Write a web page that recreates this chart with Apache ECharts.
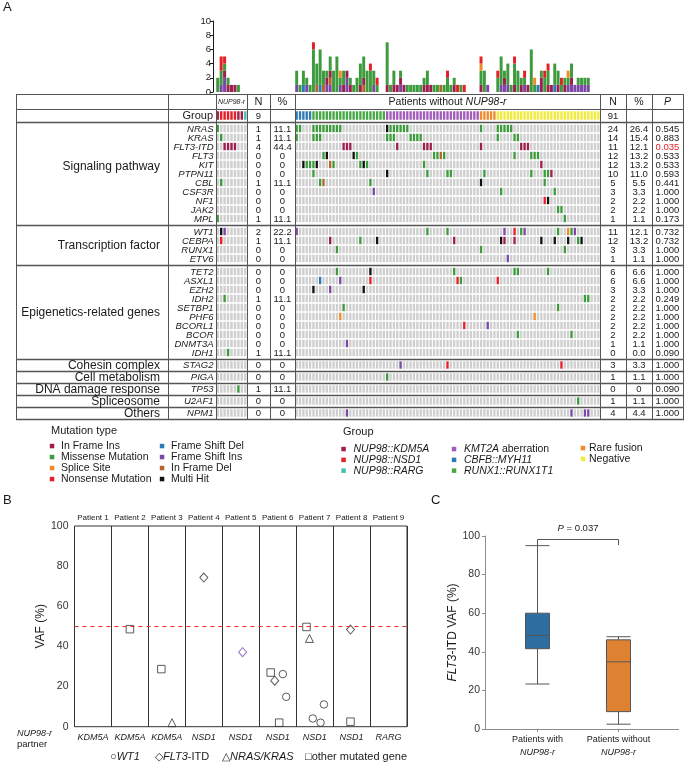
<!DOCTYPE html>
<html>
<head>
<meta charset="utf-8">
<title>NUP98-r mutation landscape</title>
<script src="https://cdn.jsdelivr.net/npm/echarts@6.0.0/dist/echarts.min.js"></script>
<style>
  html, body { margin: 0; padding: 0; background: #fff; }
  #main { width: 685px; height: 764px; }
</style>
</head>
<body>
<div id="main"></div>
<script>
var FONT = '"Liberation Sans", Arial, sans-serif';
var NARROW = '"Liberation Sans Narrow", "Liberation Sans", Arial, sans-serif';
var INK = '#1a1a1a';
var CELL_GRAY = '#cfcfcf';

/* mutation types, stacked bottom -> top */
var mutCodes = ['F', 'D', 'E', 'I', 'M', 'S', 'N', 'X'];
var mutNames = ['Frame Shift Ins', 'Frame Shift Del', 'In Frame Del', 'In Frame Ins', 'Missense Mutation', 'Splice Site', 'Nonsense Mutation', 'Multi Hit'];
var mutColors = ['#7b48a6', '#2c79b8', '#b5652b', '#9c1f4d', '#3d9b3d', '#f08a24', '#e41f26', '#111111'];

/* fusion groups */
var groupNames = ['NUP98::KDM5A', 'NUP98::NSD1', 'NUP98::RARG', 'KMT2A aberration', 'CBFB::MYH11', 'RUNX1::RUNX1T1', 'Rare fusion', 'Negative'];
var groupLabels = ['{i|NUP98::KDM5A}', '{i|NUP98::NSD1}', '{i|NUP98::RARG}', '{i|KMT2A} aberration', '{i|CBFB::MYH11}', '{i|RUNX1::RUNX1T1}', 'Rare fusion', 'Negative'];
var groupColors = ['#9c1f4d', '#e41f26', '#45c0b0', '#a25bb8', '#2f79b5', '#46a845', '#f08a2a', '#f1eb3c'];
var groupNup = [0, 1, 1, 1, 1, 1, 0, 0, 2];
var groupOthCounts = [[4, 5], [5, 22], [3, 28], [6, 5], [7, 31]];

/* genes, sections and table values */
var sections = ['Signaling pathway', 'Transcription factor', 'Epigenetics-related genes', 'Cohesin complex', 'Cell metabolism', 'DNA damage response', 'Spliceosome', 'Others'];
var sectionSize = [11, 4, 10, 1, 1, 1, 1, 1];
var genes = ['NRAS', 'KRAS', 'FLT3-ITD', 'FLT3', 'KIT', 'PTPN11', 'CBL', 'CSF3R', 'NF1', 'JAK2', 'MPL',
  'WT1', 'CEBPA', 'RUNX1', 'ETV6',
  'TET2', 'ASXL1', 'EZH2', 'IDH2', 'SETBP1', 'PHF6', 'BCORL1', 'BCOR', 'DNMT3A', 'IDH1',
  'STAG2', 'PIGA', 'TP53', 'U2AF1', 'NPM1'];
var nupN = ['1', '1', '4', '0', '0', '0', '1', '0', '0', '0', '1', '2', '1', '0', '0',
  '0', '0', '0', '1', '0', '0', '0', '0', '0', '1', '0', '0', '1', '0', '0'];
var nupPct = ['11.1', '11.1', '44.4', '0', '0', '0', '11.1', '0', '0', '0', '11.1', '22.2', '11.1', '0', '0',
  '0', '0', '0', '11.1', '0', '0', '0', '0', '0', '11.1', '0', '0', '11.1', '0', '0'];
var othN = ['24', '14', '11', '12', '12', '10', '5', '3', '2', '2', '1', '11', '12', '3', '1',
  '6', '6', '3', '2', '2', '2', '2', '2', '1', '0', '3', '1', '0', '1', '4'];
var othPct = ['26.4', '15.4', '12.1', '13.2', '13.2', '11.0', '5.5', '3.3', '2.2', '2.2', '1.1', '12.1', '13.2', '3.3', '1.1',
  '6.6', '6.6', '3.3', '2.2', '2.2', '2.2', '2.2', '2.2', '1.1', '0.0', '3.3', '1.1', '0', '1.1', '4.4'];
var pVals = ['0.545', '0.883', '0.035', '0.533', '0.533', '0.593', '0.441', '1.000', '1.000', '1.000', '0.173', '0.732', '0.732', '1.000', '1.000',
  '1.000', '1.000', '1.000', '0.249', '1.000', '1.000', '1.000', '1.000', '1.000', '0.090', '1.000', '1.000', '0.090', '1.000', '1.000'];

/* oncoprint hits per gene: <type code><patient column or range> */
var nupMut = ['M0', 'M1', 'I2-5', '', '', '', 'M1', '', '', '', 'M0',
  'X1 F2', 'N1', '', '',
  '', '', '', 'M2', '', '', '', '', '', 'M3',
  '', '', 'M6', '', ''];
var othMut = [
  'M0-1 M5-13 X27 M28-33 M55 M60-64',
  'M0 M5-7 M27-29 M34-37 M60 M65-66',
  'I14-16 I30 I38-40 I55 I67-69',
  'M8 X9 X17 M18 M41-42 E43 M44 M65 M70-72',
  'X2 M3-5 X6 E10 M11 M19 X20 M21 M38 I73',
  'M5 X27 M39 M45-46 M56 M70 M74-75 I76',
  'M7 E8 M22 X55 M74',
  'F23 M61 M77',
  'N74 X75',
  'M78-79',
  'M80',
  'F0 M39 M45 F62 N65 M67 F68 M78 S81 M82 F83',
  'I10 M19 X24 I47 X61 I62 I65 X73 X77 X81 M84 X85',
  'M12 M55 M80',
  'F63',
  'M12 X22 M47 M65-66 M75',
  'D7 F13 N22 N48 M49 N60',
  'X5 F10 X20',
  'M86-87',
  'M14 M78',
  'S13 S71',
  'N50 F57',
  'M66 M82',
  'F15',
  '',
  'F31 N45 N79',
  'M27',
  '',
  'M84',
  'F15 F82 F86-87'
];

/* mutation burden per patient (top bars), one letter per mutation */
var barsNup = ['MM', 'FMMNN', 'FFIMN', 'IM', 'I', 'I', 'M', '', ''];
var barsOth = [
  'FMM', 'M', 'DMM', 'FM', 'M', 'MMMMMMN', 'EMMM', 'DMMMMM', 'EMM', 'FIM',
  'FEIMM', 'MMM', 'MMMMM', 'FMS', 'IMM', 'FFI', 'IM', 'M', 'MM', 'IMMM',
  'EIMMM', 'MMM', 'MMMN', 'FMM', 'MN', '', '', 'IMMMMMM', 'M', 'IMM',
  'I', 'FIM', 'I', 'M', 'M', 'M', 'M', 'M', 'IM', 'IMM',
  'I', 'M', 'M', 'E', 'M', 'MMN', 'M', 'IM', 'N', 'M',
  'N', '', '', '', '', 'IMMNS', 'MMM', 'F', '', '',
  'MMN', 'FMMMM', 'FIM', 'FMMM', 'M', 'IMMMN', 'MMM', 'IM', 'FMN', 'I',
  'MMMMMM', 'MS', 'D', 'IIM', 'MMN', 'IMMN', 'I', 'DMMM', 'IMM', 'MN',
  'IM', 'FMS', 'FIMM', 'F', 'FM', 'FM', 'FM', 'FM', '', '',
  ''
];

/* panel B: [patient, VAF %, horizontal jitter within column] */
var patients = ['Patient 1', 'Patient 2', 'Patient 3', 'Patient 4', 'Patient 5', 'Patient 6', 'Patient 7', 'Patient 8', 'Patient 9'];
var partners = ['KDM5A', 'KDM5A', 'KDM5A', 'NSD1', 'NSD1', 'NSD1', 'NSD1', 'NSD1', 'RARG'];
var vafWT1 = [[6, 26.2, 0.14], [6, 14.9, 0.23], [7, 4.1, -0.05], [7, 2.0, 0.16], [7, 11.1, 0.25]];
var vafFLT3 = [[4, 74.3, 0], [5, 37.1, 0.05], [6, 22.9, -0.08], [8, 48.4, -0.03]];
var vafRAS = [[3, 2.0, 0.14], [7, 44.0, -0.14]];
var vafOther = [[2, 48.6, 0], [3, 28.7, -0.15], [6, 27.0, -0.19], [6, 2.0, 0.04], [7, 49.7, -0.22], [8, 2.5, -0.03]];

/* panel C: [min, Q1, median, Q3, max] */
var boxCats = ['with', 'without'];
var boxWith = [23.3, 41.6, 48.5, 60.0, 95.0];
var boxWithout = [2.5, 9.0, 34.8, 46.2, 47.8];

/* ---------- layout helpers ---------- */
var ROW = 9;
var rowY = [], secTop = [], secBot = [];
(function () {
  var y = 13;
  sectionSize.forEach(function (n) {
    var pad = n > 1 ? 4 : 3;
    secTop.push(y);
    for (var i = 0; i < n; i++) rowY.push(y + pad / 2 + ROW * (i + 0.5));
    y += n * ROW + pad;
    secBot.push(y);
  });
})();
var GROUP_Y = 6.5;
var ONCO_TOP = 109, ONCO_H = 310;
var palette = [CELL_GRAY].concat(mutColors, groupColors);

function parseMut(s) {
  var out = [];
  s.split(' ').forEach(function (tok) {
    if (!tok) return;
    var r = tok.slice(1).split('-');
    var a = +r[0], b = r.length > 1 ? +r[1] : a;
    for (var k = a; k <= b; k++) out.push([k, tok[0]]);
  });
  return out;
}

function oncoData(groupOf, mutList) {
  var n = groupOf.length, data = [];
  for (var c = 0; c < n; c++) data.push([c, GROUP_Y, 1, 9 + groupOf[c]]);
  genes.forEach(function (g, gi) {
    var hit = {};
    parseMut(mutList[gi]).forEach(function (m) { hit[m[0]] = m[1]; });
    for (var c = 0; c < n; c++) {
      var col = hit[c] ? 1 + mutCodes.indexOf(hit[c]) : 0;
      data.push([c, rowY[gi], 0, col]);
    }
  });
  return data;
}

function renderCell(params, api) {
  var p = api.coord([api.value(0), api.value(1)]);
  var w = api.size([1, 0])[0];
  var h = api.value(2) ? 8.5 : 7.4;
  return {
    type: 'rect',
    shape: { x: p[0] - w / 2 + 0.5, y: p[1] - h / 2, width: Math.max(w - 1, 1), height: h },
    style: { fill: palette[api.value(3)] }
  };
}

function stackCounts(bars, code) {
  return bars.map(function (s) { return s.split(code).length - 1; });
}

var groupOth = [];
groupOthCounts.forEach(function (g) { for (var i = 0; i < g[1]; i++) groupOth.push(g[0]); });
var nupIdx = barsNup.map(function (s, i) { return String(i); });
var othIdx = barsOth.map(function (s, i) { return String(i); });

/* ---------- graphic (table, legends, labels) ---------- */
function T(x, y, s, size, o) {
  o = o || {};
  var fam = o.family || FONT;
  return {
    type: 'text', x: x, y: y, silent: true, z: 10,
    style: {
      text: s, fontSize: size, fontFamily: fam, fontStyle: o.italic ? 'italic' : 'normal',
      fill: o.color || INK, align: o.align || 'center', verticalAlign: 'middle',
      rich: {
        i: { fontStyle: 'italic', fontSize: size, fontFamily: fam, fill: o.color || INK },
        n: { fontStyle: 'normal', fontSize: size, fontFamily: fam, fill: o.color || INK }
      }
    }
  };
}
function L(x1, y1, x2, y2, w, c) {
  return { type: 'line', silent: true, z: 9, shape: { x1: x1, y1: y1, x2: x2, y2: y2 }, style: { stroke: c || '#555', lineWidth: w || 1 } };
}
function SQ(cx, cy, color) {
  return { type: 'rect', silent: true, z: 10, shape: { x: cx - 2.2, y: cy - 2.2, width: 4.5, height: 4.5 }, style: { fill: color } };
}

var gfx = [];
var TBL_X = [16, 168, 216, 247, 270, 295, 600, 626, 652, 683];
var TBL_TOP = 94;
var tblBottom = ONCO_TOP + secBot[secBot.length - 1];
function colMid(i) { return (TBL_X[i] + TBL_X[i + 1]) / 2; }

TBL_X.forEach(function (x) { gfx.push(L(x + 0.5, TBL_TOP, x + 0.5, tblBottom + 0.5)); });
[TBL_TOP, ONCO_TOP].forEach(function (y) { gfx.push(L(16, y + 0.5, 684, y + 0.5)); });
gfx.push(L(16, ONCO_TOP + secTop[0] + 0.5, 684, ONCO_TOP + secTop[0] + 0.5, 1.6));
secBot.forEach(function (b) { gfx.push(L(16, ONCO_TOP + b + 0.5, 684, ONCO_TOP + b + 0.5, 1.3)); });

var headY = (TBL_TOP + ONCO_TOP) / 2 + 0.5;
gfx.push(T(colMid(2), headY, 'NUP98-r', 7, { italic: true }));
gfx.push(T(colMid(3), headY, 'N', 11));
gfx.push(T(colMid(4), headY, '%', 11));
gfx.push(T(colMid(5), headY, 'Patients without {i|NUP98-r}', 10.5));
gfx.push(T(colMid(6), headY, 'N', 10.5));
gfx.push(T(colMid(7), headY, '%', 10.5));
gfx.push(T(colMid(8), headY, 'P', 10.5, { italic: true }));

var grpY = ONCO_TOP + GROUP_Y + 0.5;
gfx.push(T(213, grpY, 'Group', 11, { align: 'right' }));
gfx.push(T(colMid(3), grpY, String(groupNup.length), 9.5, { family: NARROW }));
gfx.push(T(colMid(6), grpY, String(groupOth.length), 9.5, { family: NARROW }));

genes.forEach(function (g, i) {
  var y = ONCO_TOP + rowY[i] + 0.5;
  gfx.push(T(213.5, y, g, 9.5, { italic: true, align: 'right', family: NARROW }));
  gfx.push(T(colMid(3), y, nupN[i], 9.5, { family: NARROW }));
  gfx.push(T(colMid(4), y, nupPct[i], 9.5, { family: NARROW }));
  gfx.push(T(colMid(6), y, othN[i], 9.5, { family: NARROW }));
  gfx.push(T(colMid(7), y, othPct[i], 9.5, { family: NARROW }));
  gfx.push(T(colMid(8), y, pVals[i], 9.5, { family: NARROW, color: +pVals[i] < 0.05 ? '#e41f26' : INK }));
});
sections.forEach(function (s, i) {
  var mid = ONCO_TOP + (secTop[i] + secBot[i]) / 2 + 0.5;
  gfx.push(T(160, i === 0 ? mid - 7 : mid, s, 12, { align: 'right' }));
});

/* mutation type legend */
gfx.push(T(51, 431, 'Mutation type', 11, { align: 'left' }));
var mutLegendCols = [[3, 4, 5, 6], [1, 0, 2, 7]];
var mutLegendX = [52, 162];
mutLegendCols.forEach(function (col, ci) {
  col.forEach(function (t, r) {
    var y = 446 + 11 * r;
    gfx.push(SQ(mutLegendX[ci], y, mutColors[t]));
    gfx.push(T(mutLegendX[ci] + 9, y, mutNames[t], 10.5, { align: 'left' }));
  });
});

/* group legend */
gfx.push(T(343, 432, 'Group', 11, { align: 'left' }));
var grpLegendCols = [[0, 1, 2], [3, 4, 5], [6, 7]];
var grpLegendX = [343.5, 454, 583];
grpLegendCols.forEach(function (col, ci) {
  col.forEach(function (g, r) {
    var y = (ci === 2 ? 448 : 449) + 10.8 * r;
    gfx.push(SQ(grpLegendX[ci], y, groupColors[g]));
    gfx.push(T(grpLegendX[ci] + (ci === 2 ? 6 : 10), y, groupLabels[g], 10.5, { align: 'left' }));
  });
});

/* panel letters */
gfx.push(T(3, 7, 'A', 13, { align: 'left' }));
gfx.push(T(3, 500, 'B', 13, { align: 'left' }));
gfx.push(T(431, 500, 'C', 13, { align: 'left' }));

/* panel B extras */
gfx.push(T(17, 733, '{i|NUP98-r}', 9, { align: 'left' }));
gfx.push(T(17, 744.5, 'partner', 9.5, { align: 'left' }));
gfx.push(T(110, 757, '\u25CB{i|WT1}', 11, { align: 'left' }));
gfx.push(T(155, 757, '\u25C7{i|FLT3}-ITD', 11, { align: 'left' }));
gfx.push(T(222, 757, '\u25B3{i|NRAS/KRAS}', 11, { align: 'left' }));
gfx.push(T(305, 757, '\u25A1other mutated gene', 11, { align: 'left' }));

/* panel C extras */
var C_LEFT = 497, C_W = 162, C_TOP = 536, C_H = 193;
var bx1 = C_LEFT + C_W / 4, bx2 = C_LEFT + C_W * 3 / 4;
gfx.push(L(485, C_TOP + C_H + 0.5, 679, C_TOP + C_H + 0.5, 1, '#8c8c8c'));
gfx.push({
  type: 'polyline', silent: true, z: 9,
  shape: { points: [[bx1, 545], [bx1, 539.5], [bx2, 539.5], [bx2, 545]] },
  style: { stroke: '#555', fill: 'none', lineWidth: 1 }
});
gfx.push(T((bx1 + bx2) / 2, 528, '{i|P} = 0.037', 9.5));

/* ---------- series ---------- */
var series = [];
mutCodes.forEach(function (code, t) {
  series.push({
    type: 'bar', name: mutNames[t], xAxisIndex: 0, yAxisIndex: 0, stack: 'nup',
    barCategoryGap: '12%', data: stackCounts(barsNup, code), itemStyle: { color: mutColors[t] }
  });
  series.push({
    type: 'bar', name: mutNames[t], xAxisIndex: 1, yAxisIndex: 1, stack: 'oth',
    barCategoryGap: '12%', data: stackCounts(barsOth, code), itemStyle: { color: mutColors[t] }
  });
});
series.push({ type: 'custom', xAxisIndex: 2, yAxisIndex: 2, renderItem: renderCell, data: oncoData(groupNup, nupMut), silent: true });
series.push({ type: 'custom', xAxisIndex: 3, yAxisIndex: 3, renderItem: renderCell, data: oncoData(groupOth, othMut), silent: true });

function jit(list, purplePatient) {
  return list.map(function (p) {
    var item = { value: [p[0] - 0.5 + p[2], p[1]] };
    if (p[0] === purplePatient) item.itemStyle = { borderColor: '#7e4fb0' };
    return item;
  });
}
var hollow = { color: 'rgba(0,0,0,0)', borderColor: '#333', borderWidth: 1 };
series.push({
  type: 'scatter', name: 'WT1', xAxisIndex: 6, yAxisIndex: 4, symbol: 'circle', symbolSize: 7.5,
  itemStyle: hollow, data: jit(vafWT1),
  markLine: {
    silent: true, symbol: 'none', label: { show: false },
    lineStyle: { color: '#e5322d', type: [4, 4], width: 1 },
    data: [{ yAxis: 50 }]
  }
});
series.push({ type: 'scatter', name: 'FLT3-ITD', xAxisIndex: 6, yAxisIndex: 4, symbol: 'diamond', symbolSize: [8, 9], itemStyle: hollow, data: jit(vafFLT3, 5) });
series.push({ type: 'scatter', name: 'NRAS/KRAS', xAxisIndex: 6, yAxisIndex: 4, symbol: 'triangle', symbolSize: 8, itemStyle: hollow, data: jit(vafRAS) });
series.push({ type: 'scatter', name: 'other', xAxisIndex: 6, yAxisIndex: 4, symbol: 'rect', symbolSize: 7.5, itemStyle: hollow, data: jit(vafOther) });

series.push({
  type: 'boxplot', xAxisIndex: 7, yAxisIndex: 5, boxWidth: [24, 24],
  itemStyle: { borderColor: '#555', borderWidth: 1 },
  data: [
    { value: boxWith, itemStyle: { color: '#2e6ea1' } },
    { value: boxWithout, itemStyle: { color: '#de8231' } }
  ]
});

var hiddenCat = function (grid, data) {
  return { type: 'category', gridIndex: grid, data: data, show: false };
};
var hiddenVal = function (grid, min, max, inverse) {
  return { type: 'value', gridIndex: grid, min: min, max: max, inverse: !!inverse, show: false, splitLine: { show: false } };
};

var option = {
  animation: false,
  backgroundColor: '#fff',
  textStyle: { fontFamily: FONT },
  grid: [
    { left: 216, top: 21, width: 31, height: 71, outerBoundsMode: 'none' },
    { left: 295, top: 21, width: 305, height: 71, outerBoundsMode: 'none' },
    { left: 216, top: ONCO_TOP, width: 31, height: ONCO_H, outerBoundsMode: 'none' },
    { left: 295, top: ONCO_TOP, width: 305, height: ONCO_H, outerBoundsMode: 'none' },
    { left: 74.5, top: 526, width: 332.5, height: 200.7, show: true, borderColor: '#333', borderWidth: 1, backgroundColor: 'transparent', outerBoundsMode: 'none' },
    { left: C_LEFT, top: C_TOP, width: C_W, height: C_H, outerBoundsMode: 'none' }
  ],
  xAxis: [
    hiddenCat(0, nupIdx),
    hiddenCat(1, othIdx),
    hiddenCat(2, nupIdx),
    hiddenCat(3, othIdx),
    {
      type: 'category', gridIndex: 4, position: 'bottom', data: partners,
      axisLine: { show: false }, axisTick: { show: false },
      splitLine: { show: true, interval: 0, lineStyle: { color: '#333', width: 1 } },
      axisLabel: { interval: 0, margin: 6, fontSize: 9, fontStyle: 'italic', color: INK }
    },
    {
      type: 'category', gridIndex: 4, position: 'top', data: patients,
      axisLine: { show: false }, axisTick: { show: false }, splitLine: { show: false },
      axisLabel: { interval: 0, margin: 4, fontSize: 8, color: INK }
    },
    { type: 'value', gridIndex: 4, min: 0, max: 9, show: false, splitLine: { show: false } },
    {
      type: 'category', gridIndex: 5, data: boxCats,
      axisLine: { show: false },
      axisTick: { show: true, alignWithLabel: true, length: 3, lineStyle: { color: '#8c8c8c' } },
      axisLabel: {
        interval: 0, hideOverlap: false, margin: 5, color: INK, lineHeight: 12,
        formatter: function (v) {
          return (v === 'with' ? '{a|Patients with}' : '{a|Patients without}') + '\n{i|NUP98-r}';
        },
        rich: {
          a: { fontSize: 9, fontFamily: FONT, color: INK, lineHeight: 12 },
          i: { fontSize: 9, fontFamily: FONT, fontStyle: 'italic', color: INK, lineHeight: 12 }
        }
      }
    }
  ],
  yAxis: [
    {
      type: 'value', gridIndex: 0, min: 0, max: 10, interval: 2, offset: 3,
      axisLine: { show: true, lineStyle: { color: INK, width: 1 } },
      axisTick: { show: true, length: 3, lineStyle: { color: INK } },
      splitLine: { show: false },
      axisLabel: { fontSize: 9.5, margin: 2, color: INK }
    },
    hiddenVal(1, 0, 10),
    hiddenVal(2, 0, ONCO_H, true),
    hiddenVal(3, 0, ONCO_H, true),
    {
      type: 'value', gridIndex: 4, min: 0, max: 100, interval: 20,
      axisLine: { show: false }, axisTick: { show: false }, splitLine: { show: false },
      axisLabel: { fontSize: 10.5, margin: 6, color: '#333' },
      name: 'VAF (%)', nameLocation: 'middle', nameGap: 21,
      nameTextStyle: { fontSize: 12, color: INK }
    },
    {
      type: 'value', gridIndex: 5, min: 0, max: 100, interval: 20, offset: 12,
      axisLine: { show: true, lineStyle: { color: '#8c8c8c' } },
      axisTick: { show: true, length: 3, lineStyle: { color: '#8c8c8c' } },
      splitLine: { show: false },
      axisLabel: { fontSize: 10.5, margin: 5, color: '#333' },
      name: '{i|FLT3}-ITD VAF (%)', nameLocation: 'middle', nameGap: 24,
      nameTextStyle: {
        fontSize: 12, color: INK,
        rich: { i: { fontSize: 12, fontStyle: 'italic', color: INK, fontFamily: FONT } }
      }
    }
  ],
  graphic: { elements: gfx },
  series: series
};

var chart = echarts.init(document.getElementById('main'));
chart.setOption(option);
</script>
</body>
</html>
